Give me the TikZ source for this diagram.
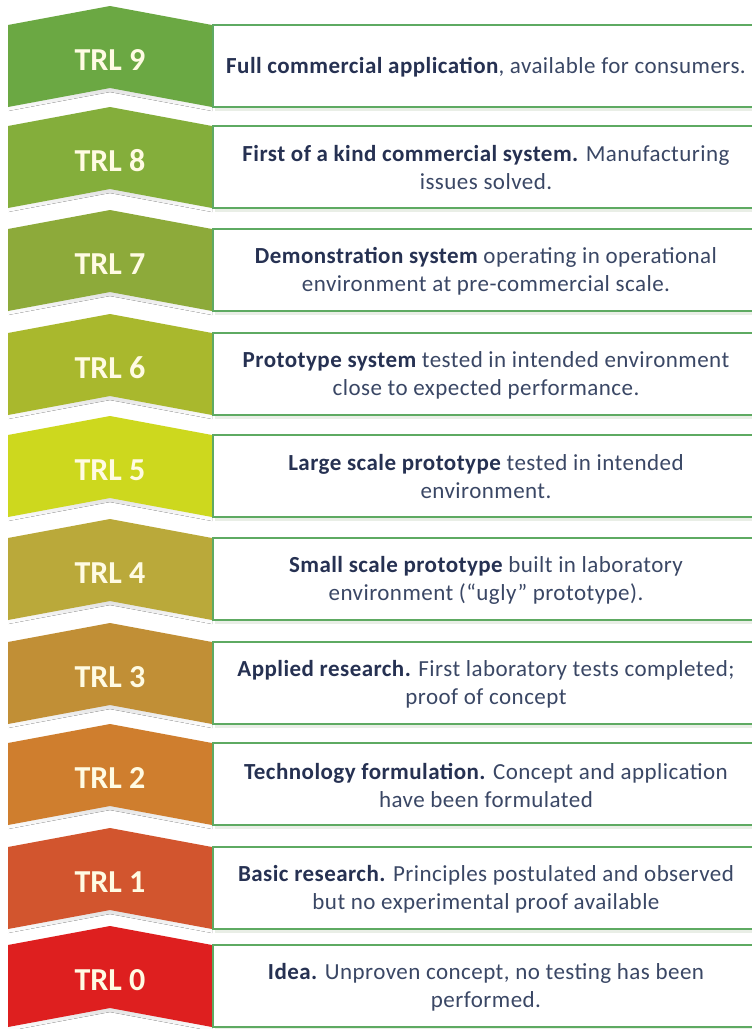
\documentclass[tikz,border=0pt]{standalone}
\usepackage{fontspec}
\setmainfont{Carlito}
\newfontfamily\descfont[LetterSpace=2]{Carlito}
\definecolor{cNine}{HTML}{6BA843}
\definecolor{cEight}{HTML}{84AE3B}
\definecolor{cSeven}{HTML}{8DAA3A}
\definecolor{cSix}{HTML}{A9B82D}
\definecolor{cFive}{HTML}{CDD81E}
\definecolor{cFour}{HTML}{BAA93A}
\definecolor{cThree}{HTML}{C18F36}
\definecolor{cTwo}{HTML}{CF7E2E}
\definecolor{cOne}{HTML}{D2552E}
\definecolor{cZero}{HTML}{DE1F1F}
\definecolor{boxgreen}{HTML}{5EAA62}
\definecolor{navytext}{HTML}{3A4765}
\definecolor{navybold}{HTML}{263152}
\definecolor{cream}{HTML}{FFFBE3}
\definecolor{shade}{HTML}{E9EEE6}
\newcommand\bt[1]{\textbf{\color{navybold}#1}}
\tikzset{
  lbl/.style={text=cream, font=\fontsize{32}{38}\selectfont\bfseries, inner sep=0pt},
  desc/.style={text=navytext, align=center, font=\descfont\fontsize{23}{28}\selectfont, inner sep=0pt},
  boxline/.style={draw=boxgreen, line width=1.8pt, fill=white},
  boxshadow/.style={fill=shade},
}
\newcommand\trlrow[4]{%
  \fill[shade] (8,#1+3) -- (110,#1-16) -- (212,#1+3) -- (212,#1+86) -- (110,#1+67) -- (8,#1+86) -- cycle;
  \fill[#2] (8,#1) -- (110,#1-19) -- (212,#1) -- (212,#1+82) -- (110,#1+63) -- (8,#1+82) -- cycle;
  \node[lbl] (trl#3) at (110,#1+35) {TRL #3};
  \fill[boxshadow] (215,#1+3) rectangle (775,#1+86);
  \draw[boxline] (213,#1) rectangle (775,#1+82);
  \node[desc] (desc#3) at (486,#1+42) {#4};
}
\begin{document}
\begin{tikzpicture}[x=1pt,y=-1pt]
\useasboundingbox (0,0) rectangle (752,1029);
\clip (0,0) rectangle (752,1029);
\fill[white] (0,0) rectangle (752,1029);
\trlrow{25}{cNine}{9}{\bt{Full commercial application}, available for consumers.}
\trlrow{126}{cEight}{8}{\bt{First of a kind commercial system.} Manufacturing\\issues solved.}
\trlrow{229}{cSeven}{7}{\bt{Demonstration system} operating in operational\\environment at pre-commercial scale.}
\trlrow{333}{cSix}{6}{\bt{Prototype system} tested in intended environment\\close to expected performance.}
\trlrow{435}{cFive}{5}{\bt{Large scale prototype} tested in intended\\environment.}
\trlrow{538}{cFour}{4}{\bt{Small scale prototype} built in laboratory\\environment (“ugly” prototype).}
\trlrow{642}{cThree}{3}{\bt{Applied research.} First laboratory tests completed;\\proof of concept}
\trlrow{743}{cTwo}{2}{\bt{Technology formulation.} Concept and application\\have been formulated}
\trlrow{847}{cOne}{1}{\bt{Basic research.} Principles postulated and observed\\but no experimental proof available}
\trlrow{945}{cZero}{0}{\bt{Idea.} Unproven concept, no testing has been\\performed.}
\end{tikzpicture}
\end{document}
